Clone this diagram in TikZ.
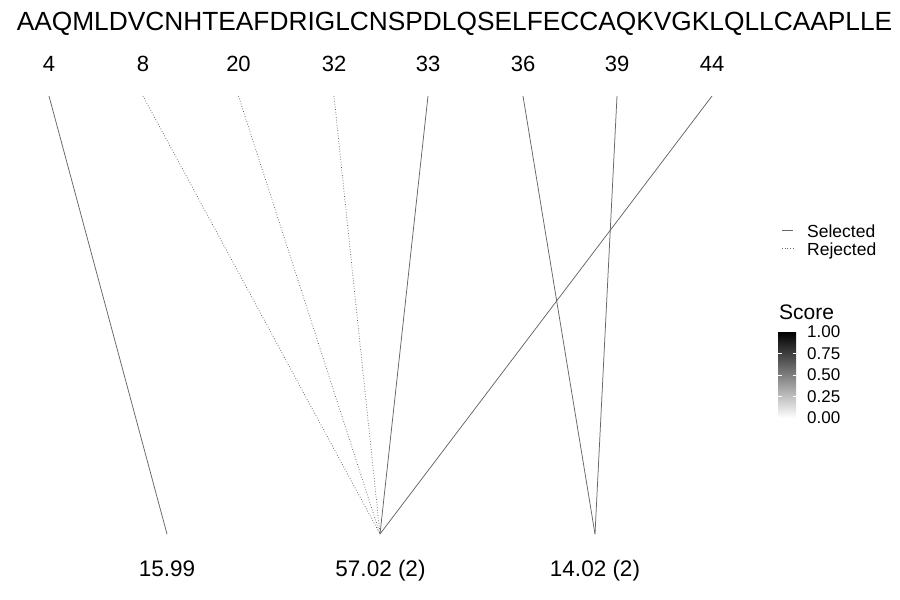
\documentclass[tikz,border=0pt]{standalone}
\usepackage{fontspec}
\setmainfont{Liberation Sans}
\begin{document}
\begin{tikzpicture}[x=1pt,y=-1pt,
  seqtext/.style={font=\fontsize{26.3}{30}\selectfont, anchor=base, inner sep=0},
  postext/.style={font=\fontsize{22}{24}\selectfont, anchor=base, inner sep=0},
  masstext/.style={font=\fontsize{22.5}{24}\selectfont, anchor=base, inner sep=0},
  legtext/.style={font=\fontsize{17.5}{20}\selectfont, anchor=base west, inner sep=0},
  ticktext/.style={font=\fontsize{17}{20}\selectfont, anchor=west, inner sep=0},
  sel/.style={draw=black!60, line width=0.75pt},
  rej/.style={draw=black!60, line width=0.75pt, dash pattern=on 0.75pt off 1.9pt}]
\useasboundingbox (0,0) rectangle (900,600);
\fill[white] (0,0) rectangle (900,600);
% sequence
\node[seqtext] (seq) at (454.5,30) {AAQMLDVCNHTEAFDRIGLCNSPDLQSELFECCAQKVGKLQLLCAAPLLE};
% position labels and top coordinates
\foreach \n/\x in {4/49,8/143,20/238.5,32/334,33/428,36/523,39/617,44/712}{
  \node[postext] (p\n) at (\x,71) {\n};
  \coordinate (t\n) at (\x,96);
}
% bottom coordinates
\coordinate (b1) at (167,534);
\coordinate (b2) at (380,534);
\coordinate (b3) at (595,534);
% connectors
\draw[sel] (t4) -- (b1);
\draw[rej] (t8) -- (b2);
\draw[rej] (t20) -- (b2);
\draw[rej] (t32) -- (b2);
\draw[sel] (t33) -- (b2);
\draw[sel] (t44) -- (b2);
\draw[sel] (t36) -- (b3);
\draw[sel] (t39) -- (b3);
% mass labels
\node[masstext] (m1) at (167,576.5) {15.99};
\node[masstext] (m2) at (380.5,576.5) {57.02 (2)};
\node[masstext] (m3) at (595,576.5) {14.02 (2)};
% legend: line types
\coordinate (ls1) at (782,230);
\coordinate (le1) at (793,230);
\coordinate (ls2) at (782,248.5);
\coordinate (le2) at (793,248.5);
\draw[sel] (ls1) -- (le1);
\draw[rej] (ls2) -- (le2);
\node[legtext] (lsel) at (807,237) {Selected};
\node[legtext] (lrej) at (807,255) {Rejected};
% legend: score colourbar
\node[font=\fontsize{21}{24}\selectfont, anchor=base west, inner sep=0] (stitle) at (779,319) {Score};
\shade[top color=black, bottom color=white] (778,332) rectangle (796,418);
\foreach \f in {0.25,0.5,0.75}{
  \draw[white, line width=0.4pt] (778,{418-86*\f}) -- (781.5,{418-86*\f});
  \draw[white, line width=0.4pt] (792.5,{418-86*\f}) -- (796,{418-86*\f});
}
\foreach \v/\f in {0.00/0,0.25/0.25,0.50/0.5,0.75/0.75,1.00/1}{
  \node[ticktext] at (807,{418-86*\f}) {\v};
}
\end{tikzpicture}
\end{document}
